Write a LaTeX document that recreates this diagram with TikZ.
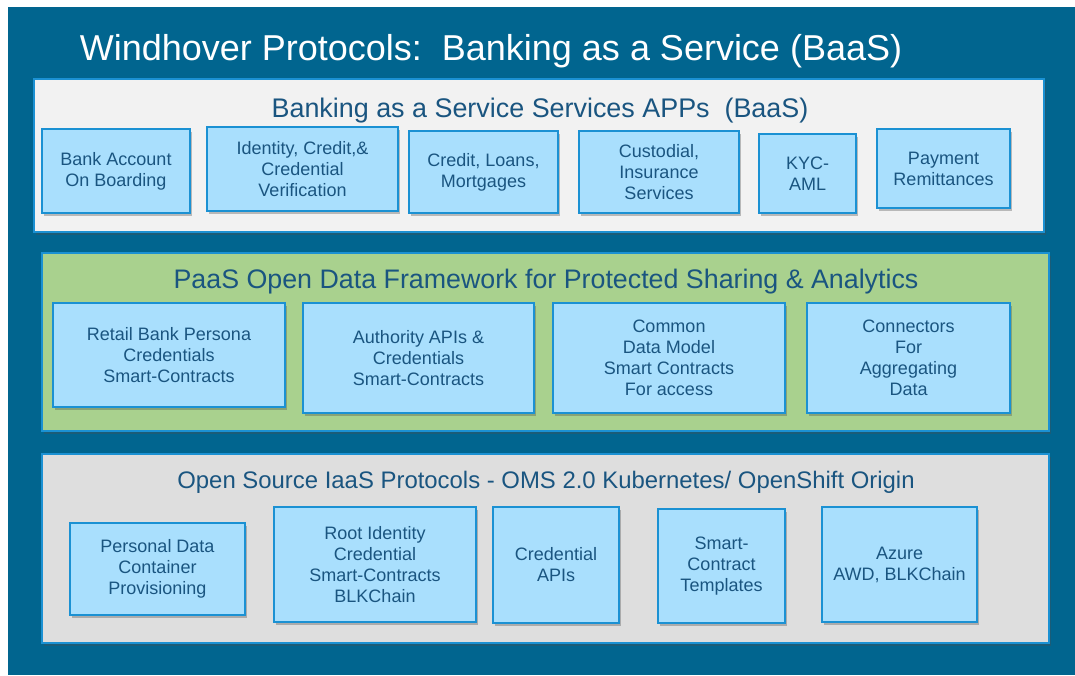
\documentclass[tikz,border=0pt]{standalone}
\usepackage{fontspec}
\setmainfont{Liberation Sans}
\usetikzlibrary{shadows}

\definecolor{bgblue}{HTML}{01658F}
\definecolor{edgeblue}{HTML}{1B91D3}
\definecolor{boxfill}{HTML}{A9DFFD}
\definecolor{txtblue}{HTML}{1A5580}
\definecolor{panelwhite}{HTML}{F2F2F2}
\definecolor{panelgreen}{HTML}{A9D18E}
\definecolor{panelgray}{HTML}{DEDEDE}

\tikzset{
  softshadow/.style={drop shadow={shadow xshift=2pt,shadow yshift=-2.5pt,opacity=0.35,fill=black!70}},
  panel/.style={draw=edgeblue, line width=2.5pt, inner sep=0pt, softshadow},
  card/.style={draw=edgeblue, fill=boxfill, line width=2.5pt, inner sep=0pt,
    align=center, text=txtblue, font=\fontsize{18}{21}\selectfont, softshadow},
  paneltitle/.style={text=txtblue, inner sep=0pt, anchor=base},
  maintitle/.style={text=white, inner sep=0pt, anchor=base, font=\fontsize{36}{40}\selectfont}
}

\begin{document}
\begin{tikzpicture}[x=1pt,y=-1pt]
  \useasboundingbox (0,0) rectangle (1075,675);
  % slide background
  \fill[bgblue] (8,7) rectangle (1075,675);

  % heading
  \node[maintitle] (title) at (491,60) {Windhover Protocols:\ \ Banking as a Service (BaaS)};

  % three layer panels
  \node[panel, fill=panelwhite, minimum width=1010, minimum height=153] (apps) at (539,155.5) {};
  \node[panel, fill=panelgreen, minimum width=1007, minimum height=178] (paas) at (545.5,342) {};
  \node[panel, fill=panelgray, minimum width=1007, minimum height=189] (iaas) at (545.5,548.5) {};

  \node[paneltitle, font=\fontsize{26.9}{30}\selectfont] (appsT) at (540,117) {Banking as a Service Services APPs\ \ (BaaS)};
  \node[paneltitle, font=\fontsize{26.8}{30}\selectfont] (paasT) at (546,288) {PaaS Open Data Framework for Protected Sharing \& Analytics};
  \node[paneltitle, font=\fontsize{23.9}{27}\selectfont] (iaasT) at (546,488) {Open Source IaaS Protocols - OMS 2.0 Kubernetes/ OpenShift Origin};

  % application services
  \node[card, minimum width=148, minimum height=84] (a1) at (116,171) {Bank Account\\On Boarding};
  \node[card, minimum width=191, minimum height=84] (a2) at (302.5,169) {Identity, Credit,\&\\Credential\\Verification};
  \node[card, minimum width=149, minimum height=82] (a3) at (483.5,172) {Credit, Loans,\\Mortgages};
  \node[card, minimum width=160, minimum height=82] (a4) at (659,172) {Custodial,\\Insurance\\Services};
  \node[card, minimum width=97, minimum height=79] (a5) at (807.5,173.5) {KYC-\\AML};
  \node[card, minimum width=133, minimum height=79] (a6) at (943.5,168.5) {Payment\\Remittances};

  % platform layer
  \node[card, minimum width=232, minimum height=104] (b1) at (169,355) {Retail Bank Persona\\Credentials\\Smart-Contracts};
  \node[card, minimum width=231, minimum height=110] (b2) at (418.5,358) {Authority APIs \&\\Credentials\\Smart-Contracts};
  \node[card, minimum width=232, minimum height=110] (b3) at (669,358) {Common\\Data Model\\Smart Contracts\\For access};
  \node[card, minimum width=203, minimum height=110] (b4) at (908.5,358) {Connectors\\For\\Aggregating\\Data};

  % infrastructure layer
  \node[card, minimum width=175, minimum height=92] (c1) at (157.5,569) {Personal Data\\Container\\Provisioning};
  \node[card, minimum width=202, minimum height=115] (c2) at (375,564.5) {Root Identity\\Credential\\Smart-Contracts\\BLKChain};
  \node[card, minimum width=126, minimum height=116] (c3) at (556,565) {Credential\\APIs};
  \node[card, minimum width=127, minimum height=114] (c4) at (721.5,566) {Smart-\\Contract\\Templates};
  \node[card, minimum width=155, minimum height=115] (c5) at (899.5,564.5) {Azure\\AWD, BLKChain};
\end{tikzpicture}
\end{document}
